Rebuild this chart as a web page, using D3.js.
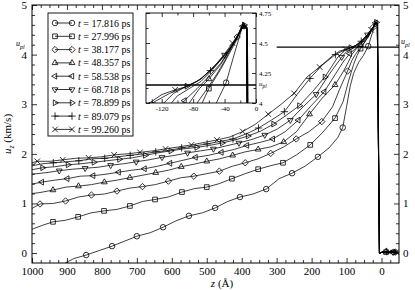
<!DOCTYPE html>
<html>
<head>
<meta charset="utf-8">
<script src="https://cdn.jsdelivr.net/npm/d3@7"></script>
<style>
body { margin: 0; background: #fff; }
svg { display: block; font-family: "Liberation Serif", "Times New Roman", serif; }
</style>
</head>
<body>
<svg id="chart" width="415" height="290"></svg>
<script>
// values: [z (A), u_z (km/s), marker?]
var times = ["17.816", "27.996", "38.177", "48.357", "58.538", "68.718", "78.899", "89.079", "99.260"];

var s1 = [[905,-0.2],[880,-0.11],[845,-0.04,1],[808,0.05],[771,0.14,1],[735,0.24],[700,0.34,1],[662,0.41],[625,0.52,1],[588,0.65],[551,0.75,1],[513,0.81],[476,0.91,1],[440,1.04],[405,1.13,1],[368,1.19],[330,1.29,1],[293,1.5],[256,1.61,1],[219,1.75],[182,1.94,1],[150,2.12],[125,2.33],[111,2.53,1],[100,2.95],[90,3.35],[80,3.62],[65,3.85],[52,3.98],[38,4.17,1],[28,4.4],[18,4.62],[12,4.63],[6,0],[-5,0.03],[-15,0.0],[-25,0.03],[-35,0.02,1],[-45,0.01]];
var s2 = [[1000,0.48],[970,0.56],[940,0.63,1],[905,0.66],[868,0.73,1],[831,0.81],[794,0.85,1],[757,0.88],[720,0.95,1],[684,1.04],[648,1.08,1],[610,1.13],[571,1.23,1],[535,1.3],[500,1.33,1],[464,1.4],[428,1.5,1],[390,1.6],[353,1.69,1],[318,1.76],[282,1.82,1],[243,1.98],[204,2.18,1],[170,2.42],[133,2.72,1],[110,3.05],[95,3.45],[80,3.8],[70,3.98],[60,4.12,1],[45,4.28],[35,4.4],[25,4.52],[16,4.65],[12,4.62],[6,0],[-3,0.02],[-13,0.02,1],[-25,0.0],[-35,0.03],[-45,0.01]];
var s3 = [[1000,0.9],[977,0.99,1],[940,1.0],[904,1.05,1],[867,1.13],[830,1.17,1],[793,1.19],[757,1.25,1],[720,1.31],[684,1.34,1],[647,1.38],[610,1.45,1],[573,1.52],[537,1.55,1],[500,1.6],[464,1.65,1],[427,1.75],[390,1.82,1],[353,1.9],[317,2.01,1],[280,2.14],[244,2.3,1],[207,2.45],[171,2.65,1],[140,2.95],[120,3.3],[97,3.67,1],[85,3.88],[75,4.0],[62,4.12],[50,4.24],[40,4.35],[32,4.45],[24,4.55,1],[17,4.66],[12,4.63],[6,0],[-5,0.03],[-15,0.01],[-25,0.02],[-40,0.02,1]];
var s4 = [[1000,1.2],[977,1.22],[940,1.27,1],[903,1.33],[867,1.35,1],[830,1.38],[793,1.43,1],[757,1.47],[720,1.52,1],[683,1.57],[646,1.62,1],[610,1.67],[573,1.74,1],[537,1.79],[500,1.85,1],[463,1.9],[426,1.97,1],[390,2.04],[353,2.09,1],[317,2.14],[280,2.24,1],[243,2.45],[206,2.8,1],[170,3.12],[133,3.39,1],[110,3.65],[95,3.85],[85,4.0],[72,4.12],[60,4.2,1],[45,4.32],[30,4.48],[20,4.6],[15,4.66],[11,4.63],[6,0],[-5,0.02],[-13,0.03,1],[-25,0.01],[-35,0.02],[-45,0.0]];
var s5 = [[1000,1.39],[972,1.43,1],[935,1.47],[899,1.5,1],[862,1.55],[825,1.56,1],[788,1.59],[752,1.63,1],[715,1.67],[678,1.7,1],[641,1.75],[605,1.81,1],[568,1.87],[532,1.93,1],[495,1.97],[458,2.03,1],[421,2.09],[385,2.17,1],[348,2.23],[311,2.3,1],[275,2.45],[238,2.68,1],[200,2.98],[164,3.25,1],[128,3.65],[110,3.85],[91,4.02,1],[75,4.12],[60,4.22],[45,4.33],[30,4.48],[22,4.57],[17,4.64,1],[12,4.62],[6,0],[-5,0.02],[-15,0.03],[-25,0.0],[-35,0.02],[-45,0.01]];
var s6 = [[1000,1.59],[960,1.62],[922,1.66,1],[885,1.69],[848,1.71,1],[811,1.73],[775,1.77,1],[738,1.8],[702,1.84,1],[665,1.88],[628,1.93,1],[591,1.97],[555,2.02,1],[518,2.06],[481,2.1,1],[445,2.16],[408,2.22,1],[371,2.29],[334,2.38,1],[298,2.5],[261,2.68,1],[224,2.95],[187,3.2,1],[150,3.6],[114,3.95,1],[100,4.06],[85,4.12],[70,4.18],[55,4.28],[40,4.4,1],[28,4.5],[18,4.63],[12,4.62],[6,0],[-5,0.03],[-15,0.01],[-25,0.02],[-33,0.02,1],[-45,0.01]];
var s7 = [[1000,1.68],[970,1.72,1],[935,1.74],[897,1.78,1],[860,1.8],[823,1.83,1],[787,1.86],[750,1.89,1],[713,1.92],[676,1.97,1],[640,2.02],[603,2.06,1],[566,2.1],[529,2.13,1],[492,2.17],[456,2.22,1],[419,2.28],[382,2.36,1],[345,2.46],[309,2.6,1],[272,2.78],[235,2.97,1],[198,3.25],[162,3.55,1],[125,3.95],[105,4.08],[88,4.14,1],[70,4.2],[50,4.32],[35,4.43],[25,4.54],[15,4.65,1],[11,4.62],[6,0],[-5,0.02],[-15,0.01],[-25,0.03],[-35,0.01],[-45,0.02]];
var s8 = [[1000,1.76],[970,1.8],[939,1.82,1],[902,1.84],[866,1.86,1],[829,1.9],[792,1.91,1],[755,1.94],[719,1.97,1],[682,2.0],[646,2.04,1],[609,2.07],[572,2.12,1],[535,2.16],[499,2.2,1],[462,2.25],[425,2.3,1],[388,2.4],[352,2.52,1],[315,2.68],[278,2.85,1],[241,3.2],[205,3.52,1],[168,3.8],[132,4.0,1],[110,4.08],[95,4.12],[75,4.18],[58,4.27,1],[40,4.4],[25,4.53],[17,4.65],[12,4.62],[6,0],[-5,0.02],[-15,0.03,1],[-25,0.01],[-35,0.03],[-45,0.01]];
var s9 = [[1000,1.82],[985,1.85,1],[948,1.85],[912,1.88,1],[875,1.91],[838,1.92,1],[801,1.94],[765,1.98,1],[728,2.0],[691,2.03,1],[655,2.06],[618,2.1,1],[581,2.14],[544,2.18,1],[507,2.23],[471,2.28,1],[434,2.34],[397,2.45,1],[360,2.6],[324,2.8,1],[287,3.0],[250,3.22,1],[213,3.55],[177,3.75,1],[140,3.98],[120,4.07],[103,4.11,1],[86,4.14],[70,4.2],[50,4.33],[40,4.41],[30,4.5,1],[22,4.58],[16,4.67],[12,4.63],[6,0],[-5,0.02],[-15,0.01],[-25,0.03],[-43,0.02,1],[-48,0.01]];

var series = [s1, s2, s3, s4, s5, s6, s7, s8, s9];
var uPl = 4.15;
var uPlStart = 300;

var xMajor = d3.range(0, 1001, 100);
var xMinor = d3.range(-25, 1000, 25).filter(function(v){ return v % 100 != 0; });
var yMajor = [0, 1, 2, 3, 4, 5];
var yMinor = d3.range(0, 25).map(function(i){ return i / 5; }).filter(function(v){ return v % 1 != 0; });
var inXMajor = [-120, -80, -40, 0];
var inXMinor = [-100, -60, -20];
var inYMajor = [4, 4.25, 4.5, 4.75];
var inYMinor = [4.125, 4.375, 4.625];

// marker shapes, one per series
var tri = d3.symbolTriangle2;
var shapes = [d3.symbolCircle, d3.symbolSquare2, d3.symbolDiamond2, tri, tri, tri, tri, d3.symbolPlus, d3.symbolTimes];
var rots = [0, 0, 0, 0, -90, 180, 90, 0, 0];
var sizes = [24, 28, 26, 24, 24, 24, 24, 20, 22];

var svg = d3.select("#chart");
var x = d3.scaleLinear().domain([1000, -50]).range([32, 399]);
var y = d3.scaleLinear().domain([-0.2, 5]).range([263, 5]);

var xi = d3.scaleLinear().domain([-140, 0]).range([146, 256]);
var yi = d3.scaleLinear().domain([4, 4.75]).range([103, 13]);

function marker(g, i, px, py) {
  g.append("path")
    .attr("d", d3.symbol().type(shapes[i]).size(sizes[i])())
    .attr("transform", "translate(" + px + "," + py + ") rotate(" + rots[i] + ")")
    .attr("fill", "none")
    .attr("stroke", "#000")
    .attr("stroke-width", 0.8);
}

function axis(g, gen, vals, len, labels, pad, fs) {
  gen.tickValues(vals).tickSizeInner(-len).tickSizeOuter(0).tickPadding(pad);
  if (!labels) gen.tickFormat("");
  else gen.tickFormat(function(d){ return String(d); });
  g.call(gen);
  g.select(".domain").remove();
  g.attr("font-family", null).attr("font-size", fs);
  g.selectAll("line").attr("stroke", "#000").attr("stroke-width", 0.8);
  g.selectAll("text").attr("fill", "#000");
}

function upl(g, px, py, fs) {
  var t = g.append("text").attr("x", px).attr("y", py).attr("font-size", fs);
  t.append("tspan").attr("font-style", "italic").text("u");
  t.append("tspan").attr("font-size", fs * 0.75).attr("font-style", "italic").attr("dy", fs * 0.3).text("pl");
}

function curves(g, sx, sy, zf) {
  var line = d3.line().x(function(d){ return sx(zf(d[0])); }).y(function(d){ return sy(d[1]); });
  series.forEach(function(s, i) {
    g.append("path").attr("d", line(s)).attr("fill", "none").attr("stroke", "#000").attr("stroke-width", 0.75);
  });
  series.forEach(function(s, i) {
    s.filter(function(d){ return d[2]; }).forEach(function(d) {
      marker(g, i, sx(zf(d[0])), sy(d[1]));
    });
  });
}

// ---- main panel
svg.append("clipPath").attr("id", "clipMain").append("rect")
  .attr("x", 32).attr("y", 5).attr("width", 367).attr("height", 258);
svg.append("clipPath").attr("id", "clipIn").append("rect")
  .attr("x", 146).attr("y", 13).attr("width", 110).attr("height", 90);

var main = svg.append("g").attr("clip-path", "url(#clipMain)");
curves(main, x, y, function(z){ return z; });

main.append("line")
  .attr("x1", x(uPlStart)).attr("x2", x(-50))
  .attr("y1", y(uPl)).attr("y2", y(uPl))
  .attr("stroke", "#000").attr("stroke-width", 1.2);

axis(svg.append("g").attr("transform", "translate(0,263)"), d3.axisBottom(x), xMajor, 5, true, 4, 11);
axis(svg.append("g").attr("transform", "translate(0,263)"), d3.axisBottom(x), xMinor, 3, false, 4, 11);
axis(svg.append("g").attr("transform", "translate(0,5)"), d3.axisTop(x), xMajor, 5, false, 4, 11);
axis(svg.append("g").attr("transform", "translate(0,5)"), d3.axisTop(x), xMinor, 3, false, 4, 11);
axis(svg.append("g").attr("transform", "translate(32,0)"), d3.axisLeft(y), yMajor, 5, true, 5, 11);
axis(svg.append("g").attr("transform", "translate(32,0)"), d3.axisLeft(y), yMinor, 3, false, 5, 11);
axis(svg.append("g").attr("transform", "translate(399,0)"), d3.axisRight(y), yMajor, 5, true, 4, 11);
axis(svg.append("g").attr("transform", "translate(399,0)"), d3.axisRight(y), yMinor, 3, false, 4, 11);

svg.append("rect").attr("x", 32).attr("y", 5).attr("width", 367).attr("height", 258)
  .attr("fill", "none").attr("stroke", "#000").attr("stroke-width", 1);

upl(svg, 16, y(uPl) - 1, 8);
upl(svg, 401, y(uPl) - 3, 8);

// axis titles
var yt = svg.append("text").attr("transform", "translate(11,134) rotate(-90)")
  .attr("text-anchor", "middle").attr("font-size", 11);
yt.append("tspan").attr("font-style", "italic").text("u");
yt.append("tspan").attr("font-style", "italic").attr("font-size", 8).attr("dy", 3).text("z");
yt.append("tspan").attr("dy", -3).text(" (km/s)");

var xt = svg.append("text").attr("x", 222).attr("y", 287)
  .attr("text-anchor", "middle").attr("font-size", 11);
xt.append("tspan").attr("font-style", "italic").text("z");
xt.append("tspan").text(" (\u00c5)");

// ---- legend
var leg = svg.append("g");
leg.append("rect").attr("x", 48).attr("y", 13).attr("width", 85).attr("height", 123)
  .attr("fill", "#fff").attr("stroke", "#000").attr("stroke-width", 0.9);
times.forEach(function(t, i) {
  var ly = 23 + i * 13.3;
  leg.append("line").attr("x1", 55).attr("x2", 72).attr("y1", ly).attr("y2", ly)
    .attr("stroke", "#000").attr("stroke-width", 0.8);
  marker(leg, i, 55, ly);
  marker(leg, i, 72, ly);
  var tx = leg.append("text").attr("x", 78).attr("y", ly + 3.5).attr("font-size", 10);
  tx.append("tspan").attr("font-style", "italic").text("t");
  tx.append("tspan").text(" = " + t + " ps");
});

// ---- inset
svg.append("rect").attr("x", 146).attr("y", 13).attr("width", 110).attr("height", 90)
  .attr("fill", "#fff");
var inset = svg.append("g").attr("clip-path", "url(#clipIn)");
curves(inset, xi, yi, function(z){ return -z; });
inset.append("line")
  .attr("x1", 146).attr("x2", 256).attr("y1", yi(uPl)).attr("y2", yi(uPl))
  .attr("stroke", "#000").attr("stroke-width", 1.5);

axis(svg.append("g").attr("transform", "translate(0,103)"), d3.axisBottom(xi), inXMajor, 4, true, 3, 7);
axis(svg.append("g").attr("transform", "translate(0,103)"), d3.axisBottom(xi), inXMinor, 2.5, false, 3, 7);
axis(svg.append("g").attr("transform", "translate(0,13)"), d3.axisTop(xi), inXMajor, 4, false, 3, 7);
axis(svg.append("g").attr("transform", "translate(0,13)"), d3.axisTop(xi), inXMinor, 2.5, false, 3, 7);
axis(svg.append("g").attr("transform", "translate(146,0)"), d3.axisLeft(yi), inYMajor, 4, false, 3, 7);
axis(svg.append("g").attr("transform", "translate(146,0)"), d3.axisLeft(yi), inYMinor, 2.5, false, 3, 7);
axis(svg.append("g").attr("transform", "translate(256,0)"), d3.axisRight(yi), inYMajor, 4, true, 3, 7);
axis(svg.append("g").attr("transform", "translate(256,0)"), d3.axisRight(yi), inYMinor, 2.5, false, 3, 7);

svg.append("rect").attr("x", 146).attr("y", 13).attr("width", 110).attr("height", 90)
  .attr("fill", "none").attr("stroke", "#000").attr("stroke-width", 0.9);
upl(svg, 259, yi(uPl) + 1, 7);
</script>
</body>
</html>
